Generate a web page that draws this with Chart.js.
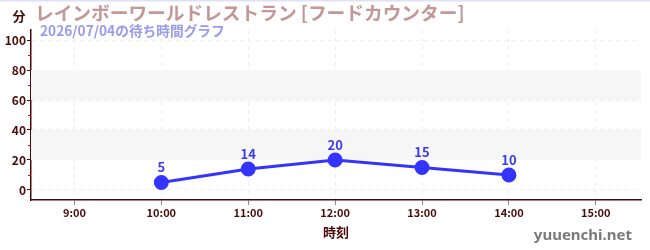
<!DOCTYPE html>
<html><head><meta charset="utf-8">
<script src="https://cdn.jsdelivr.net/npm/chart.js@4/dist/chart.umd.min.js"></script>
<style>html,body{margin:0;padding:0;background:#fff;}#wrap{width:650px;height:250px;position:relative;}</style>
</head><body><div id="wrap"><canvas id="c" width="650" height="250"></canvas></div>
<script>
const hours = [10, 11, 12, 13, 14];
const waits = [5, 14, 20, 15, 10];
const xTickValues = [9, 10, 11, 12, 13, 14, 15];
const yTickValues = [0, 20, 40, 60, 80, 100];
const yMinorValues = [10, 30, 50, 70, 90];
const bandRanges = [[20, 40], [60, 80]];
const titleText = 'レインボーワールドレストラン [フードカウンター]';
const subtitleText = '2026/07/04の待ち時間グラフ';
const yAxisTitle = '分';
const xAxisTitle = '時刻';
const watermark = 'yuuenchi.net';

const FONT = '"Noto Sans CJK JP", "Noto Sans", sans-serif';
const DARK = '#4a0a0a';

const decor = {
  id: 'decor',
  beforeDatasetsDraw(chart) {
    const {ctx, chartArea: a, scales: {y}} = chart;
    ctx.save();
    ctx.fillStyle = '#f6f6f6';
    bandRanges.forEach(([lo, hi]) => {
      const t = y.getPixelForValue(hi), b = y.getPixelForValue(lo);
      ctx.fillRect(a.left, t, a.right - a.left, b - t);
    });
    ctx.restore();
  },
  afterDatasetsDraw(chart) {
    const {ctx, chartArea: a, scales: {x, y}} = chart;
    ctx.save();
    ctx.strokeStyle = '#e00000';
    ctx.lineWidth = 1;
    yMinorValues.forEach(v => {
      const py = Math.round(y.getPixelForValue(v)) + 0.5;
      ctx.beginPath(); ctx.moveTo(a.left - 3, py); ctx.lineTo(a.left, py); ctx.stroke();
    });
    const meta = chart.getDatasetMeta(0);
    ctx.fillStyle = '#3a3af0';
    ctx.font = 'bold 13px ' + FONT;
    ctx.textAlign = 'center';
    ctx.textBaseline = 'alphabetic';
    meta.data.forEach((pt, i) => {
      ctx.fillText(String(waits[i]), pt.x, pt.y - 10);
    });
    ctx.fillStyle = '#e0e0f8';
    ctx.fillRect(0, 0, 650, 1.5);
    ctx.textAlign = 'left';
    ctx.textBaseline = 'middle';
    ctx.fillStyle = '#c49696';
    ctx.font = 'bold 18.7px ' + FONT;
    ctx.fillText(titleText, 35, 13);
    ctx.fillStyle = '#9a9af0';
    ctx.font = 'bold 13.7px ' + FONT;
    ctx.fillText(subtitleText, 40, 31);
    ctx.fillStyle = DARK;
    ctx.font = 'bold 13px ' + FONT;
    ctx.textAlign = 'center';
    ctx.fillText(yAxisTitle, 19, 16);
    ctx.fillText(xAxisTitle, (a.left + a.right) / 2, 232);
    ctx.fillStyle = '#7a7a7a';
    ctx.font = 'bold 15px "Noto Sans", sans-serif';
    ctx.textAlign = 'right';
    ctx.textBaseline = 'alphabetic';
    ctx.fillText(watermark, 632, 240);
    ctx.restore();
  }
};

new Chart(document.getElementById('c'), {
  type: 'line',
  data: {
    datasets: [{
      data: hours.map((h, i) => ({x: h, y: waits[i]})),
      borderColor: '#3434ff',
      backgroundColor: '#3434ff',
      borderWidth: 3,
      pointRadius: 6,
      pointHoverRadius: 6,
      tension: 0,
      fill: false
    }]
  },
  options: {
    responsive: false,
    animation: false,
    events: [],
    layout: {padding: {top: 30, right: 9, left: 0, bottom: 0}},
    plugins: {legend: {display: false}, tooltip: {enabled: false}, title: {display: false}},
    scales: {
      x: {
        type: 'linear',
        min: 8.5, max: 15.52,
        afterBuildTicks: s => { s.ticks = xTickValues.map(v => ({value: v})); },
        afterFit: s => { s.height = 50; },
        ticks: {
          color: DARK,
          font: {family: FONT, size: 11, weight: 'bold'},
          padding: 1,
          maxRotation: 0,
          autoSkip: false,
          callback: v => v + ':00'
        },
        grid: {color: '#eeeeee', tickColor: '#888888', tickLength: 5, drawOnChartArea: true},
        border: {color: DARK, width: 1.5, dash: [4, 4]}
      },
      y: {
        min: -6.67, max: 106.67,
        afterBuildTicks: s => { s.ticks = yTickValues.map(v => ({value: v})); },
        afterFit: s => { s.width = 31; },
        ticks: {
          color: DARK,
          font: {family: FONT, size: 12, weight: 'bold'},
          padding: 1
        },
        grid: {color: '#eeeeee', tickColor: DARK, tickLength: 4},
        border: {color: DARK, width: 1.5, dash: [4, 4]}
      }
    }
  },
  plugins: [decor]
});
</script></body></html>
